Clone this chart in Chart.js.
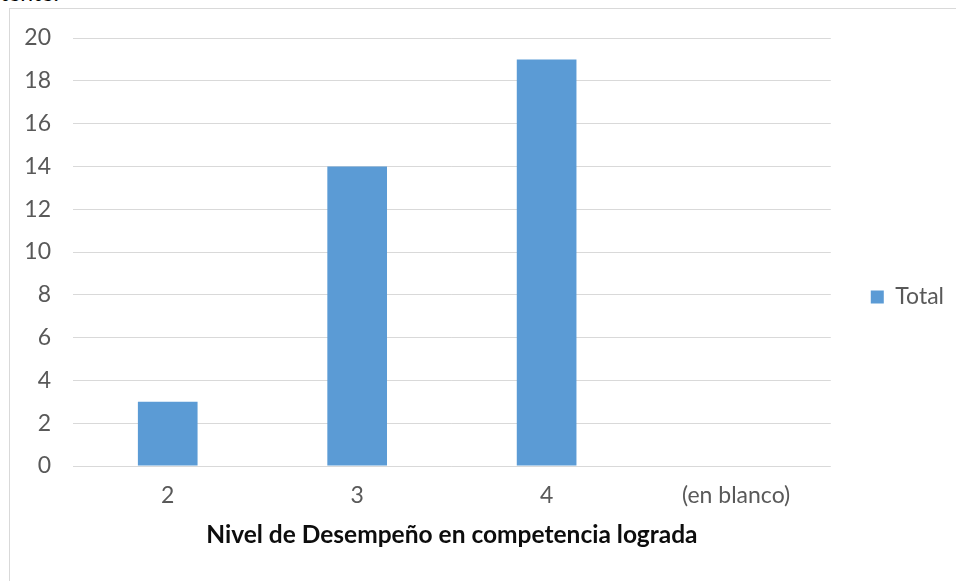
<!DOCTYPE html>
<html lang="es">
<head>
<meta charset="utf-8">
<title>Nivel de Desempeño en competencia lograda</title>
<script src="https://cdn.jsdelivr.net/npm/chart.js@4.4.1/dist/chart.umd.min.js"></script>
<style>
  html, body { margin: 0; padding: 0; width: 956px; height: 581px; overflow: hidden; background: #ffffff; }
  .lead { position: absolute; left: 0; top: -22px; font: 23px Lato, "Open Sans", sans-serif; color: #000; white-space: nowrap; }
  .frame { position: absolute; left: 9px; top: 8px; width: 980px; height: 620px; border: 1px solid #d9d9d9; box-sizing: border-box; }
  #chart { position: absolute; left: 0; top: 0; }
</style>
</head>
<body>
<div class="lead">tente:</div>
<div class="frame"></div>
<canvas id="chart" width="956" height="581"></canvas>
<script>
// Niveles de desempeño y número de casos por nivel
const categories = ['2', '3', '4', '(en blanco)'];
const totals = [3, 14, 19, null];
const seriesName = 'Total';
const axisTitle = 'Nivel de Desempeño en competencia lograda';
const yMin = 0;
const yMax = 20;
const yStep = 2;

const FONT = 'Lato, "Open Sans", sans-serif';
const GREY_TEXT = '#595959';
const GRID = '#d9d9d9';
const BAR = '#5b9bd5';

new Chart(document.getElementById('chart'), {
  type: 'bar',
  data: {
    labels: categories,
    datasets: [{
      label: seriesName,
      data: totals,
      backgroundColor: BAR,
      borderWidth: 0,
      barPercentage: 0.315,
      categoryPercentage: 1
    }]
  },
  options: {
    responsive: false,
    devicePixelRatio: 1,
    animation: false,
    layout: { padding: { top: 38, bottom: 25, left: 0, right: 2 } },
    plugins: {
      tooltip: { enabled: false },
      legend: {
        position: 'right',
        labels: {
          boxWidth: 13,
          boxHeight: 13,
          padding: 40,
          color: GREY_TEXT,
          font: { family: FONT, size: 23 }
        }
      }
    },
    scales: {
      x: {
        grid: { display: false, drawTicks: false },
        border: { display: false },
        ticks: { color: GREY_TEXT, padding: 16, font: { family: FONT, size: 23 }, autoSkip: false, maxRotation: 0 },
        title: {
          display: true,
          text: axisTitle,
          color: '#0d0d0d',
          font: { family: FONT, size: 24.5, weight: 'bold' },
          padding: { top: 0, bottom: 6 }
        },
        afterFit: (scale) => { scale.height = 90; }
      },
      y: {
        min: yMin,
        max: yMax,
        grid: { color: GRID, lineWidth: 1, drawTicks: false },
        border: { display: false },
        ticks: { stepSize: yStep, color: GREY_TEXT, padding: 22, font: { family: FONT, size: 23 } },
        afterFit: (scale) => { scale.width = 73; }
      }
    }
  }
});
</script>
</body>
</html>
